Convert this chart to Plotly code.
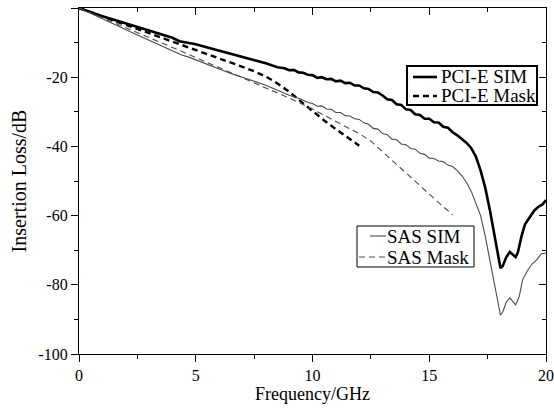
import plotly.graph_objects as go

# PCI-E SIM (thick solid)
pcie_sim_f = [0, 0.5, 1, 1.5, 2, 2.5, 3, 3.5, 4, 4.3, 4.6, 5, 5.5, 6, 6.5, 7, 7.5, 8, 8.5, 8.8,
              9.0, 9.2, 9.4, 9.6, 9.8, 10.0, 10.2, 10.4, 10.6, 10.8, 11.0, 11.2, 11.4, 11.6, 11.8,
              12.0, 12.2, 12.4, 12.6, 12.8, 13.0, 13.2, 13.4, 13.6, 13.8, 14.0, 14.2, 14.4, 14.6,
              14.8, 15.0, 15.2, 15.4, 15.6, 15.8, 16.0, 16.2, 16.4, 16.6, 16.8, 17.0, 17.2, 17.4,
              17.6, 17.8, 17.95, 18.05, 18.15, 18.3, 18.45, 18.6, 18.7, 18.8, 18.95, 19.1, 19.3,
              19.5, 19.7, 19.85, 20.0]
pcie_sim_db = [0, -1.3, -2.4, -3.4, -4.4, -5.4, -6.4, -7.5, -8.6, -9.6, -10.0, -10.5, -11.4, -12.3,
               -13.1, -14.0, -15.0, -16.0, -17.1, -17.4,
               -18.0, -17.9, -18.6, -18.7, -19.3, -19.4, -20.2, -20.0, -20.6, -20.5, -21.2, -21.0,
               -21.7, -21.6, -22.4, -22.4, -23.2, -23.4, -24.3, -24.4, -25.3, -26.4, -26.6, -27.8,
               -28.0, -29.3, -29.5, -30.7, -30.9, -32.0, -32.0, -33.0, -33.1, -34.3, -34.6, -35.9,
               -36.8, -38.0, -39.0, -40.5, -43.0, -47.0, -52.0, -58.5, -65.5, -71.5, -75.2, -74.5,
               -72.0, -70.5, -71.5, -72.0, -70.5, -66.0, -62.5, -60.5, -58.5, -57.3, -56.8, -55.5]

# PCI-E Mask (thick dashed)
pcie_mask_f = [0, 1, 2, 3, 4, 5, 6, 7, 7.5, 8, 8.5, 9, 9.5, 10, 10.5, 11, 11.5, 12]
pcie_mask_db = [0, -2.4, -4.8, -7.2, -9.7, -12.0, -14.6, -17.0, -18.3, -19.8, -21.8, -24.2,
                -27.0, -29.8, -32.5, -35.0, -37.5, -39.8]

# SAS SIM (thin solid)
sas_sim_f = [0, 0.5, 1, 1.5, 2, 2.5, 3, 3.5, 4, 4.4, 4.7, 5, 5.5, 6, 6.5, 7, 7.5, 8, 8.5, 9, 9.5,
             9.8, 10.0, 10.2, 10.4, 10.6, 10.8, 11.0, 11.2, 11.4, 11.6, 11.8, 12.0, 12.2, 12.4,
             12.6, 12.8, 13.0, 13.2, 13.4, 13.6, 13.8, 14.0, 14.2, 14.4, 14.6, 14.8, 15.0, 15.2,
             15.4, 15.6, 15.8, 16.0, 16.2, 16.4, 16.6, 16.8, 17.0, 17.2, 17.4, 17.6, 17.8, 17.95,
             18.05, 18.15, 18.3, 18.45, 18.6, 18.7, 18.85, 19.0, 19.2, 19.4, 19.6, 19.8, 20.0]
sas_sim_db = [0, -1.6, -3.1, -4.6, -6.2, -7.8, -9.3, -10.8, -12.3, -13.6, -14.2, -15.0, -16.2,
              -17.6, -18.9, -20.0, -21.2, -22.3, -23.8, -25.2, -26.3, -27.3, -27.6, -28.4, -28.3,
              -29.2, -29.3, -30.2, -30.2, -31.1, -31.2, -32.0, -32.2, -33.2, -33.6, -34.8, -35.0,
              -36.3, -36.6, -37.9, -38.1, -39.3, -39.5, -40.6, -40.8, -42.0, -42.3, -43.4, -43.5,
              -44.2, -44.4, -45.4, -45.8, -47.0, -48.5, -50.5, -53.0, -56.5, -60.0, -66.0, -73.0,
              -80.5, -86.0, -88.8, -87.8, -85.0, -83.8, -85.2, -85.8, -83.5, -78.5, -76.0, -74.0,
              -72.8, -71.0, -70.8]

# SAS Mask (thin dashed)
sas_mask_f = [0, 1, 2, 3, 4, 5, 6, 7, 8, 9, 10, 11, 12, 12.5, 13, 13.5, 14, 14.5, 15, 15.5, 16]
sas_mask_db = [0, -2.8, -5.6, -8.5, -11.4, -14.3, -17.3, -20.3, -23.1, -26.0, -29.2, -32.8,
               -36.3, -38.5, -41.5, -44.5, -47.6, -50.7, -53.8, -56.8, -59.8]

x_ticks = [0, 5, 10, 15, 20]
x_ticktext = ["0", "5", "10", "15", "20"]
y_ticks = [0, -20, -40, -60, -80, -100]
y_ticktext = ["0", "-20", "-40", "-60", "-80", "-100"]

series_names = ["PCI-E SIM", "PCI-E Mask", "SAS SIM", "SAS Mask"]

FONT = "Liberation Serif, Times New Roman, serif"
THICK = dict(color="black", width=2.6)
THICK_DASH = dict(color="black", width=2.4, dash="6px,4px")
THIN = dict(color="#4a4a4a", width=1.1)
THIN_DASH = dict(color="#4a4a4a", width=1.1, dash="6px,4px")

fig = go.Figure()
fig.add_trace(go.Scatter(x=pcie_sim_f, y=pcie_sim_db, mode="lines", name=series_names[0],
                         line=THICK, showlegend=False))
fig.add_trace(go.Scatter(x=pcie_mask_f, y=pcie_mask_db, mode="lines", name=series_names[1],
                         line=THICK_DASH, showlegend=False))
fig.add_trace(go.Scatter(x=sas_sim_f, y=sas_sim_db, mode="lines", name=series_names[2],
                         line=THIN, showlegend=False))
fig.add_trace(go.Scatter(x=sas_mask_f, y=sas_mask_db, mode="lines", name=series_names[3],
                         line=THIN_DASH, showlegend=False))
# invisible trace to drive mirrored top/right axes
fig.add_trace(go.Scatter(x=[0, 20], y=[0, -100], mode="lines", xaxis="x2", yaxis="y2",
                         line=dict(width=0), showlegend=False, hoverinfo="skip"))

axis_common = dict(showline=True, linecolor="black", linewidth=1.3, showgrid=False,
                   zeroline=False, tickcolor="black", tickwidth=1.2, automargin=False)

# ---- custom legend boxes (paper coordinates) ----
shapes = []
annotations = []

def legend_box(x0, x1, y0, y1, bw):
    shapes.append(dict(type="rect", xref="paper", yref="paper", x0=x0, x1=x1, y0=y0, y1=y1,
                       line=dict(color="black", width=bw), fillcolor="white", layer="above"))

def legend_item(lx0, lx1, y, style, tx, text):
    shapes.append(dict(type="line", xref="paper", yref="paper", x0=lx0, x1=lx1, y0=y, y1=y,
                       line=style, layer="above"))
    annotations.append(dict(xref="paper", yref="paper", x=tx, y=y, xanchor="left",
                            yanchor="middle", text=text, showarrow=False,
                            font=dict(size=19, family=FONT, color="black"), borderpad=0))

legend_box(0.7024, 0.9807, 0.7197, 0.8324, 2)
legend_item(0.7152, 0.7666, 0.8006, THICK, 0.7730, series_names[0])
legend_item(0.7152, 0.7666, 0.7457, THICK_DASH, 0.7730, series_names[1])

legend_box(0.5953, 0.8458, 0.2514, 0.3699, 1)
legend_item(0.6231, 0.6574, 0.3410, THIN, 0.6570, series_names[2])
legend_item(0.5996, 0.6552, 0.2803, THIN_DASH, 0.6570, series_names[3])

fig.update_layout(
    width=554, height=410,
    margin=dict(l=79, r=8, t=8, b=56),
    paper_bgcolor="white", plot_bgcolor="white",
    font=dict(family=FONT, color="black", size=16),
    showlegend=False,
    xaxis=dict(range=[0, 20], tickvals=x_ticks, ticktext=x_ticktext, ticks="outside", ticklen=7,
               minor=dict(ticks="outside", ticklen=4, dtick=2.5, tickcolor="black", tickwidth=1.2),
               title=dict(text="Frequency/GHz", font=dict(size=18), standoff=2),
               tickfont=dict(size=16), **axis_common),
    yaxis=dict(range=[-100, 0], tickvals=y_ticks, ticktext=y_ticktext, ticks="outside", ticklen=7,
               minor=dict(ticks="outside", ticklen=4, dtick=10, tickcolor="black", tickwidth=1.2),
               title=dict(text="Insertion Loss/dB", font=dict(size=20), standoff=6),
               tickfont=dict(size=16), **axis_common),
    xaxis2=dict(range=[0, 20], overlaying="x", side="top", tickvals=x_ticks, ticks="inside",
                ticklen=7, showticklabels=False,
                minor=dict(ticks="inside", ticklen=4, dtick=2.5, tickcolor="black", tickwidth=1.2),
                **axis_common),
    yaxis2=dict(range=[-100, 0], overlaying="y", side="right", tickvals=y_ticks, ticks="inside",
                ticklen=7, showticklabels=False,
                minor=dict(ticks="inside", ticklen=4, dtick=10, tickcolor="black", tickwidth=1.2),
                **axis_common),
    shapes=shapes,
    annotations=annotations,
)

fig.write_html("out.html")
